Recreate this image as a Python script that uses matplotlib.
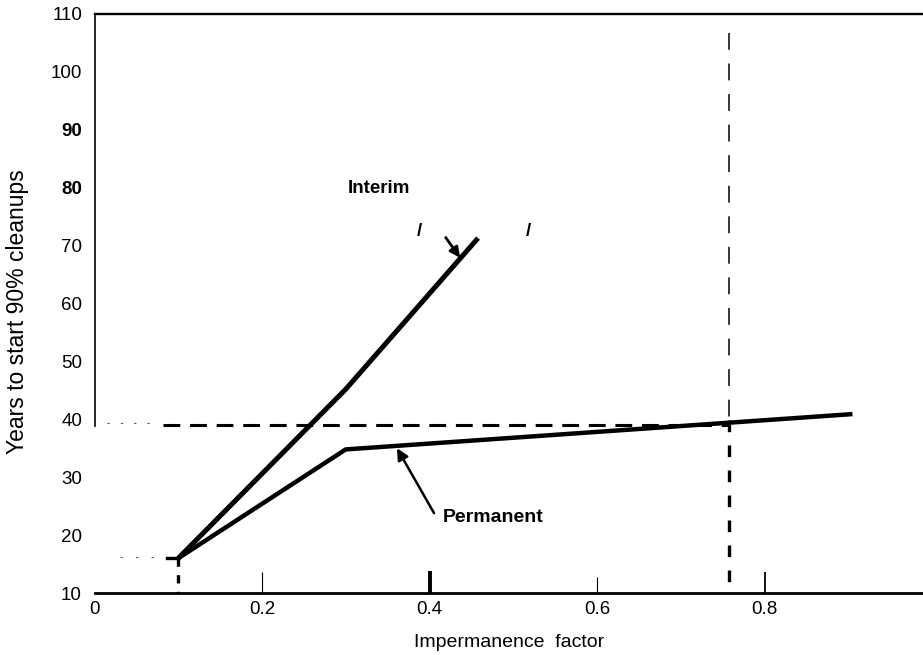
import matplotlib
matplotlib.use("Agg")
import matplotlib.pyplot as plt

plt.rcParams['font.family'] = ['Liberation Sans', 'DejaVu Sans']

# ---- data ----
interim_factor = [0.10, 0.30, 0.458]
interim_years = [16.0, 45.2, 71.3]
permanent_factor = [0.10, 0.30, 0.905]
permanent_years = [16.0, 34.8, 40.9]

start_factor = 0.10
start_years = 16.0
ref_years = 39.0          # horizontal dashed reference
ref_factor = 0.758        # vertical dashed reference
ref_top = 106.7

x_ticks = [0, 0.2, 0.4, 0.6, 0.8]
x_tick_labels = ['0', '0.2', '0.4', '0.6', '0.8']
y_ticks = [10, 20, 30, 40, 50, 60, 70, 80, 90, 100, 110]
y_tick_labels = ['10', '20', '30', '40', '50', '60', '70', '80', '90', '100', '110']
bold_y_labels = ['80', '90']

W, H = 923, 655
fig = plt.figure(figsize=(W / 100, H / 100), dpi=100)
x0_px, x_scale = 94.5, 837.5
ax = fig.add_axes([x0_px / W, 1 - 593 / H, 1 - x0_px / W, (593 - 14) / H])
ax.set_xlim(0, (W - x0_px) / x_scale)
ax.set_ylim(10, 110)

# spines
ax.spines['right'].set_visible(False)
ax.spines['top'].set_linewidth(1.7)
ax.spines['bottom'].set_linewidth(2.0)
ax.spines['left'].set_linewidth(1.2)
ax.spines['left'].set_bounds(38.8, 110)

# main curves
ax.plot(interim_factor, interim_years, color='black', lw=3.6, solid_capstyle='butt', zorder=3)
ax.plot(permanent_factor, permanent_years, color='black', lw=3.2, solid_capstyle='butt', zorder=3)

# dashed reference lines
ax.plot([0.082, ref_factor], [ref_years, ref_years], color='black', lw=2.2,
        dashes=(5.5, 3.2), zorder=2)
ax.plot([0.015, 0.075], [ref_years + 0.3, ref_years + 0.3], color='#555555', lw=0.8,
        dashes=(2, 10))
ax.plot([ref_factor, ref_factor], [ref_top, ref_years + 1.2], color='black', lw=1.1,
        dashes=(11, 9))
ax.plot([ref_factor, ref_factor], [ref_years + 0.8, 10], color='black', lw=2.4,
        dashes=(3.5, 4.0))
ax.plot([start_factor, start_factor], [start_years, 10], color='black', lw=2.4,
        dashes=(2.5, 2.5))
ax.plot([0.086, start_factor], [start_years, start_years], color='black', lw=2.4)
ax.plot([0.03, 0.08], [start_years + 0.3, start_years + 0.3], color='#555555', lw=0.8,
        dashes=(2, 12))

# ticks
ax.set_xticks(x_ticks, x_tick_labels)
ax.set_yticks(y_ticks, y_tick_labels)
ax.tick_params(axis='x', direction='in', length=15, width=0.8, pad=6, labelsize=13.5)
ax.tick_params(axis='y', length=0, pad=9, labelsize=13.5)
tick_len = [0, 15, 15.5, 11.5, 15]
tick_w = [0.8, 0.8, 2.8, 0.8, 1.3]
for t, L, w in zip(ax.xaxis.get_major_ticks(), tick_len, tick_w):
    t.tick1line.set_markersize(L)
    t.tick1line.set_markeredgewidth(w)
for lab in ax.get_yticklabels():
    if lab.get_text() in bold_y_labels:
        lab.set_fontweight('bold')

# axis labels
ax.set_xlabel('Impermanence  factor', fontsize=14, labelpad=11)
fig.text(18 / W, 1 - 312 / H, 'Years to start 90% cleanups', rotation=90,
         ha='center', va='center', fontsize=16.5)

# annotations
ax.text(0.3397, 79.8, 'Interim', fontsize=13.5, fontweight='bold', ha='center', va='center')
ax.text(0.3875, 72.35, '/', fontsize=13.5, fontweight='bold', ha='center', va='center')
ax.text(0.5176, 72.35, '/', fontsize=13.5, fontweight='bold', ha='center', va='center')
ax.annotate('', xy=(0.4365, 67.9), xytext=(0.4193, 71.4),
            arrowprops=dict(arrowstyle='-|>', color='black', lw=2.0,
                            mutation_scale=15, shrinkA=0, shrinkB=0))
ax.text(0.416, 23.1, 'Permanent', fontsize=14, fontweight='bold', ha='left', va='center')
ax.annotate('', xy=(0.3612, 35.0), xytext=(0.4054, 23.8),
            arrowprops=dict(arrowstyle='-|>', color='black', lw=1.8,
                            mutation_scale=17, shrinkA=0, shrinkB=0))

fig.savefig('out.png', dpi=100)
